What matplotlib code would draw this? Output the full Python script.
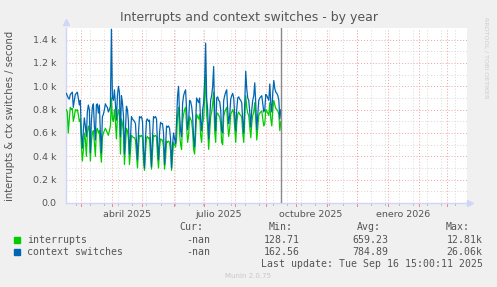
import numpy as np
import matplotlib
matplotlib.use("Agg")
import matplotlib.pyplot as plt
import matplotlib.dates as mdates
from matplotlib.patches import Rectangle

# daily values (k per second), 2025-02-14 .. 2025-09-16
start_day = np.datetime64("2025-02-14")

interrupts = [
    0.80, 0.78, 0.60, 0.72, 0.82, 0.80, 0.81, 0.70, 0.74, 0.80, 0.79, 0.80, 0.76, 0.70, 0.72,
    0.50, 0.36, 0.45, 0.60, 0.55, 0.40, 0.60, 0.66, 0.62, 0.36, 0.52, 0.60, 0.62, 0.52, 0.40,
    0.62, 0.64, 0.60, 0.62, 0.45, 0.35, 0.56, 0.60, 0.62, 0.64, 0.62, 0.60, 0.58, 0.62, 0.66,
    0.90, 0.72, 0.70, 0.80, 0.70, 0.55, 0.74, 0.80, 0.76, 0.42, 0.72, 0.68, 0.60, 0.33, 0.48,
    0.64, 0.62, 0.55, 0.33, 0.44, 0.58, 0.57, 0.56, 0.56, 0.54, 0.42, 0.30, 0.47, 0.58, 0.57,
    0.58, 0.56, 0.36, 0.28, 0.44, 0.56, 0.57, 0.55, 0.56, 0.40, 0.29, 0.44, 0.58, 0.57, 0.58,
    0.57, 0.40, 0.30, 0.47, 0.55, 0.54, 0.54, 0.48, 0.29, 0.38, 0.53, 0.52, 0.53, 0.52, 0.45,
    0.28, 0.40, 0.52, 0.50, 0.48, 0.55, 0.75, 0.82, 0.60, 0.50, 0.46, 0.70, 0.76, 0.80, 0.82,
    0.66, 0.52, 0.58, 0.74, 0.72, 0.70, 0.62, 0.46, 0.42, 0.58, 0.76, 0.74, 0.72, 0.76, 0.58,
    0.52, 0.68, 0.72, 0.90, 1.10, 0.76, 0.66, 0.46, 0.60, 0.74, 0.78, 0.85, 0.95, 0.62, 0.52,
    0.76, 0.77, 0.75, 0.74, 0.68, 0.52, 0.50, 0.74, 0.78, 0.80, 0.82, 0.68, 0.57, 0.64, 0.76,
    0.78, 0.80, 0.77, 0.64, 0.52, 0.68, 0.76, 0.78, 0.76, 0.75, 0.74, 0.60, 0.52, 0.72, 0.92,
    0.82, 0.77, 0.75, 0.66, 0.56, 0.68, 0.75, 0.78, 0.86, 0.72, 0.54, 0.64, 0.75, 0.77, 0.78,
    0.79, 0.72, 0.66, 0.68, 0.80, 0.79, 0.77, 0.75, 0.86, 0.72, 0.66, 0.80, 0.88, 0.84, 0.81,
    0.80, 0.79, 0.76, 0.62, 0.70,
]

context_switches = [
    0.94, 0.92, 0.90, 0.89, 0.93, 0.94, 0.95, 0.82, 0.88, 0.93, 0.94, 0.95, 0.90, 0.84, 0.88,
    0.60, 0.47, 0.62, 0.73, 0.66, 0.57, 0.78, 0.84, 0.80, 0.43, 0.70, 0.82, 0.85, 0.66, 0.54,
    0.84, 0.85, 0.77, 0.84, 0.60, 0.43, 0.74, 0.76, 0.80, 0.85, 0.83, 0.82, 0.78, 0.80, 0.83,
    1.49, 0.90, 0.88, 0.97, 0.85, 0.71, 0.92, 1.00, 0.95, 0.57, 0.92, 0.86, 0.75, 0.42, 0.62,
    0.83, 0.80, 0.70, 0.42, 0.55, 0.74, 0.72, 0.71, 0.70, 0.68, 0.52, 0.37, 0.60, 0.74, 0.73,
    0.74, 0.70, 0.45, 0.30, 0.55, 0.71, 0.72, 0.70, 0.71, 0.50, 0.31, 0.56, 0.74, 0.73, 0.74,
    0.72, 0.50, 0.37, 0.60, 0.69, 0.68, 0.68, 0.60, 0.33, 0.48, 0.66, 0.65, 0.66, 0.64, 0.55,
    0.30, 0.50, 0.60, 0.55, 0.51, 0.70, 0.92, 1.00, 0.75, 0.62, 0.57, 0.85, 0.92, 0.95, 0.97,
    0.80, 0.63, 0.70, 0.88, 0.87, 0.83, 0.75, 0.55, 0.48, 0.70, 0.90, 0.88, 0.86, 0.90, 0.70,
    0.62, 0.80, 0.86, 1.05, 1.37, 0.90, 0.80, 0.55, 0.72, 0.88, 0.92, 1.00, 1.17, 0.75, 0.62,
    0.90, 0.91, 0.88, 0.87, 0.80, 0.62, 0.60, 0.88, 0.92, 0.95, 0.97, 0.80, 0.68, 0.75, 0.89,
    0.92, 0.94, 0.90, 0.75, 0.62, 0.80, 0.90, 0.91, 0.89, 0.88, 0.86, 0.70, 0.60, 0.85, 1.13,
    0.98, 0.90, 0.88, 0.78, 0.65, 0.80, 0.88, 0.92, 1.03, 0.85, 0.63, 0.75, 0.88, 0.90, 0.91,
    0.92, 0.85, 0.78, 0.80, 0.93, 0.92, 0.90, 0.88, 1.02, 0.85, 0.78, 0.95, 1.05, 0.98, 0.95,
    0.94, 0.92, 0.88, 0.72, 0.80,
]

y_ticks = [0, 200, 400, 600, 800, 1000, 1200, 1400]
y_labels = ["0.0", "0.2 k", "0.4 k", "0.6 k", "0.8 k", "1.0 k", "1.2 k", "1.4 k"]
month_labels = ["abril 2025", "julio 2025", "octubre 2025", "enero 2026"]
month_label_dates = ["2025-04-16", "2025-07-16", "2025-10-16", "2026-01-16"]

legend_names = ["interrupts", "context switches"]
legend_cur = ["-nan", "-nan"]
legend_min = ["128.71", "162.56"]
legend_avg = ["659.23", "784.89"]
legend_max = ["12.81k", "26.06k"]
colors = ["#00CC00", "#0066B3"]

W, H = 497, 287
fig = plt.figure(figsize=(W / 100, H / 100), dpi=100, facecolor="#F0F0F0")
ax = fig.add_axes([66 / W, 84 / H, 401 / W, 175 / H])
ax.set_facecolor("white")

days = start_day + np.arange(len(interrupts)).astype("timedelta64[D]")
x = mdates.date2num(days.astype("datetime64[s]").astype(object))
t0 = mdates.date2num(np.datetime64("2025-02-13T17:00").astype(object))
t1 = t0 + 400
ax.set_xlim(t0, t1)
ax.set_ylim(0, 1500)

# grid
for v in range(100, 1500, 200):
    ax.axhline(v, color="#D8D8D8", lw=0.7, ls=(0, (1, 2)), zorder=1)
for v in y_ticks[1:]:
    ax.axhline(v, color="#F2A0A0", lw=0.7, ls=(0, (1, 2)), zorder=1)
minor = mdates.date2num(np.datetime64("2025-02-24T00:00").astype(object))
while minor < t1:
    ax.axvline(minor, color="#D8D8D8", lw=0.7, ls=(0, (1, 2)), zorder=1)
    ax.axvline(minor, ymin=-0.012, ymax=0, color="#BBBBBB", lw=0.7, clip_on=False)
    minor += 14
for m in range(3, 16):
    yr, mo = 2025 + (m - 1) // 12, (m - 1) % 12 + 1
    mx = mdates.date2num(np.datetime64(f"{yr}-{mo:02d}-01T00:00").astype(object))
    if mx < t1:
        ax.axvline(mx, color="#F2A0A0", lw=0.7, ls=(0, (1, 2)), zorder=1)
        ax.axvline(mx, ymin=-0.018, ymax=0, color="#F08080", lw=0.7, clip_on=False)

ax.plot(x, np.array(interrupts) * 1000, color=colors[0], lw=0.9, zorder=3)
ax.plot(x, np.array(context_switches) * 1000, color=colors[1], lw=0.9, zorder=4)

now = mdates.date2num(np.datetime64("2025-09-16T15:00").astype(object))
ax.axvline(now, color="#888888", lw=1.0, zorder=5)

ax.set_yticks(y_ticks)
ax.set_yticklabels(y_labels)
ax.set_xticks(mdates.date2num([np.datetime64(d).astype(object) for d in month_label_dates]))
ax.set_xticklabels(month_labels)
ax.tick_params(axis="both", length=0, labelsize=6.8, labelcolor="#555555")
ax.tick_params(axis="y", pad=7)
ax.tick_params(axis="x", pad=5)
for s in ["top", "right"]:
    ax.spines[s].set_visible(False)
for s in ["left", "bottom"]:
    ax.spines[s].set_color("#CFD6F8")
    ax.spines[s].set_linewidth(1.0)
ax.plot([0], [1.035], marker="^", ms=4, color="#CFD6F8", transform=ax.transAxes, clip_on=False)
ax.plot([1.008], [0], marker=">", ms=4, color="#CFD6F8", transform=ax.transAxes, clip_on=False)

fig.text(248.7 / W, 1 - 18 / H, "Interrupts and context switches - by year",
         ha="center", va="center", fontsize=9, color="#555555")
fig.text(10 / W, 1 - 116 / H, "interrupts & ctx switches / second", rotation=90,
         ha="center", va="center", fontsize=7.2, color="#555555")
fig.text(486 / W, 1 - 58 / H, "RRDTOOL / TOBI OETIKER", rotation=270,
         ha="center", va="center", fontsize=4.6, color="#CCCCCC")

mono = dict(family="DejaVu Sans Mono", fontsize=7.1, color="#555555", va="center")
cols = [(203.3, "Cur:", legend_cur), (292.7, "Min:", legend_min),
        (381.0, "Avg:", legend_avg), (470.0, "Max:", legend_max)]
for cx, head, vals in cols:
    fig.text(cx / W, 1 - 227.5 / H, head, ha="right", **mono)
rows_y = [240, 252.3]
for i, name in enumerate(legend_names):
    yy = 1 - rows_y[i] / H
    fig.patches.append(Rectangle((14 / W, yy - 3 / H), 6 / W, 6 / H, color=colors[i],
                                 transform=fig.transFigure, figure=fig))
    fig.text(26.7 / W, yy, name, ha="left", **mono)
    for cx, head, vals in cols:
        fig.text((cx + 7) / W if head != "Max:" else 482.7 / W, yy, vals[i], ha="right", **mono)
fig.text(482.7 / W, 1 - 263.7 / H, "Last update: Tue Sep 16 15:00:11 2025", ha="right", **mono)
fig.text(247.7 / W, 1 - 276 / H, "Munin 2.0.75", ha="center", va="center",
         fontsize=5, color="#C8C8C8")

fig.savefig("out.png", dpi=100, facecolor=fig.get_facecolor())
